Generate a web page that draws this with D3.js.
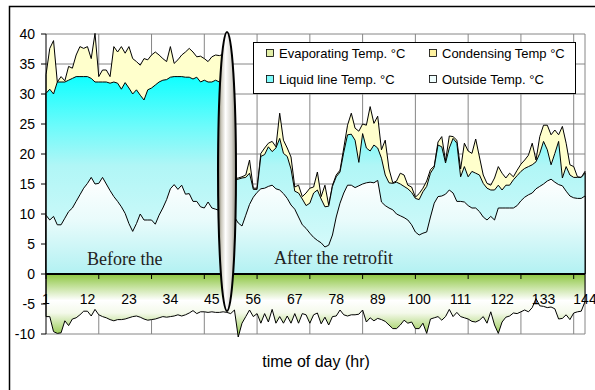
<!DOCTYPE html>
<html>
<head>
<meta charset="utf-8">
<script src="https://cdnjs.cloudflare.com/ajax/libs/d3/7.8.5/d3.min.js"></script>
<style>
  body { margin: 0; background: #fff; }
  svg { display: block; font-family: Arial, "Liberation Sans", sans-serif; }
</style>
</head>
<body>
<svg id="chart" width="595" height="390"></svg>
<script>
// categories: hour index 1..144
const hours = d3.range(1, 145);

const condensing = [
  33.2, 37.6, 38.9, 32.0, 32.9, 32.2, 34.6, 34.3, 36.5, 37.9,
  37.6, 37.9, 35.9, 40.1, 32.9, 34.0, 34.0, 32.9, 37.9, 37.0,
  37.9, 36.8, 37.9, 35.9, 35.4, 34.8, 35.9, 35.7, 36.5, 37.0,
  36.5, 35.9, 35.4, 37.9, 35.1, 35.7, 36.5, 37.0, 37.6, 37.0,
  36.2, 36.3, 35.9, 35.4, 36.2, 36.5, 36.4, 36.6, 36.3, 36.0,
  15.9, 16.0, 16.2, 16.5, 19.0, 14.3, 14.3, 20.1, 21.0, 21.8,
  22.1, 21.2, 26.8, 22.3, 21.0, 19.5, 14.5, 14.8, 12.9, 13.5,
  14.3, 14.5, 17.0, 12.9, 14.8, 11.5, 14.8, 16.5, 17.3, 21.0,
  24.8, 26.8, 24.3, 23.8, 25.0, 24.8, 27.9, 25.1, 26.3, 20.7,
  22.3, 17.5, 15.2, 15.5, 16.8, 16.5, 14.8, 14.5, 12.8, 13.4,
  14.3, 15.5, 17.4, 18.0, 22.0, 22.9, 18.8, 23.0, 22.9, 22.3,
  17.5, 21.8, 20.5, 20.1, 22.5, 19.5, 16.5, 15.1, 14.8, 16.0,
  17.9, 16.8, 16.0, 16.8, 16.2, 17.3, 18.3, 19.0, 19.8, 21.8,
  19.0, 22.9, 24.8, 24.8, 23.2, 24.0, 23.2, 24.6, 21.8, 18.2,
  17.9, 16.2, 16.1, 17.1
];

const liquidLine = [
  30.1, 30.8, 30.0, 32.0, 32.0, 32.0, 32.3, 32.6, 32.9, 32.9,
  32.9, 32.9, 32.6, 32.0, 32.0, 32.0, 32.0, 31.8, 32.0, 31.8,
  30.8, 31.9, 31.0, 30.0, 30.7, 29.8, 29.0, 30.7, 31.0, 31.5,
  32.0, 32.3, 32.4, 32.8, 32.9, 32.9, 32.9, 32.8, 32.8, 32.5,
  32.8, 32.0, 32.3, 32.0, 32.0, 32.3, 32.0, 32.0, 32.0, 32.0,
  15.7, 15.8, 16.0, 16.1, 16.8, 14.1, 14.1, 19.6, 19.9, 21.2,
  20.4, 21.0, 22.6, 20.1, 19.6, 17.5, 13.8, 13.5, 12.5, 11.4,
  11.8, 13.5, 14.0, 12.5, 11.2, 11.3, 14.6, 16.2, 17.0, 20.3,
  23.2, 23.3, 22.3, 18.6, 23.4, 21.0, 20.5, 21.5, 21.0, 19.3,
  16.5, 15.2, 15.1, 15.3, 15.0, 14.6, 14.2, 13.6, 12.6, 12.4,
  13.7, 14.6, 16.8, 17.8, 21.5, 21.2, 18.5, 21.0, 22.6, 21.8,
  16.2, 17.9, 16.2, 17.1, 16.8, 16.5, 15.1, 14.3, 14.0, 14.0,
  14.8, 14.0, 14.8, 14.8, 15.7, 16.4, 17.1, 17.6, 17.9, 18.2,
  18.7, 20.1, 22.1, 20.7, 18.2, 20.1, 22.1, 16.0, 17.9, 16.5,
  16.1, 16.1, 16.1, 16.8
];

const outside = [
  9.8, 9.0, 9.6, 8.2, 8.2, 9.3, 10.4, 11.0, 12.1, 13.2,
  14.3, 15.1, 16.1, 15.0, 15.1, 16.1, 15.0, 13.9, 12.9, 12.1,
  11.2, 10.1, 8.4, 7.1, 8.4, 10.0, 9.0, 9.0, 9.0, 8.3,
  9.8, 11.0, 12.4, 14.2, 14.9, 14.1, 14.8, 13.3, 13.4, 12.1,
  12.1, 11.2, 11.0, 12.0, 11.0, 10.8, 10.6, 10.5, 10.3, 10.0,
  9.5, 8.5, 8.0, 9.8, 11.6, 12.8, 13.6, 14.2, 14.3, 14.6,
  14.8, 14.2, 14.0, 13.4, 12.6, 11.5, 10.8, 9.5, 8.2, 7.6,
  6.8, 6.1, 5.6, 5.2, 4.5, 4.8, 6.5, 9.5, 11.8, 13.5,
  14.8, 14.8, 14.4, 14.7, 15.0, 15.2, 15.3, 15.2, 15.6, 12.0,
  11.4, 11.0, 10.7, 10.0, 9.7, 9.4, 9.0, 8.2, 7.0, 6.5,
  6.8, 7.0, 9.5, 11.8, 12.9, 13.0, 13.3, 14.0, 13.5, 12.1,
  12.1, 12.0, 11.4, 11.0, 11.0, 10.4, 9.5, 9.0, 9.6, 9.0,
  11.0, 11.0, 11.0, 11.0, 11.0, 11.4, 12.2, 12.8, 13.2, 13.5,
  14.2, 14.6, 15.0, 15.5, 15.8, 15.3, 14.9, 14.7, 13.8, 13.0,
  12.7, 12.6, 12.6, 13.0
];

const evaporating = [
  -7.1, -7.1, -9.6, -9.9, -9.8, -7.8, -8.6, -7.5, -7.3, -6.8,
  -6.2, -6.2, -7.0, -5.9, -6.8, -7.1, -7.3, -7.6, -7.8, -7.6,
  -7.6, -7.5, -7.3, -7.1, -7.0, -7.2, -7.5, -7.7, -7.6, -7.5,
  -7.3, -7.1, -7.2, -7.1, -7.0, -6.8, -7.0, -6.8, -6.5, -6.1,
  -6.6, -6.3, -6.3, -6.4, -6.3, -6.4, -6.4, -6.3, -6.4, -6.6,
  -6.0, -10.5, -8.2, -7.1, -6.0, -7.1, -6.6, -8.2, -6.6, -8.0,
  -5.9, -8.2, -7.1, -8.2, -7.0, -8.2, -6.6, -8.2, -6.6, -6.8,
  -8.2, -6.8, -6.5, -8.3, -7.2, -8.5, -7.1, -7.0, -6.0, -6.8,
  -7.0, -6.8, -6.8, -6.7, -6.0, -8.0, -7.3, -7.8, -7.4, -7.6,
  -7.9, -8.5, -9.1, -9.1, -8.5, -7.7, -8.2, -8.0, -9.1, -9.1,
  -8.2, -9.9, -7.5, -7.3, -7.1, -7.7, -7.1, -5.9, -7.1, -6.4,
  -7.1, -7.3, -7.5, -7.9, -8.0, -7.7, -7.1, -8.2, -6.3, -8.5,
  -9.9, -8.0, -7.2, -7.0, -6.5, -6.6, -6.3, -6.0, -6.3, -5.6,
  -4.1, -5.3, -5.4, -5.6, -5.5, -5.8, -7.5, -7.4, -6.8, -7.6,
  -6.5, -6.3, -6.2, -4.6
];

const yTicks = [-10, -5, 0, 5, 10, 15, 20, 25, 30, 35, 40];
const xLabelHours = [1, 12, 23, 34, 45, 56, 67, 78, 89, 100, 111, 122, 133, 144];
const xTickHours = [1, 15, 29, 43, 57, 71, 85, 99, 113, 127, 141];

const legendNames = ["Evaporating Temp. °C", "Condensing Temp °C", "Liquid line Temp. °C", "Outside Temp. °C"];
const legendColors = ["#e2eea6", "#fff2a0", "#7ffcfc", "#effefe"];

const svg = d3.select("#chart");
const plotLeft = 46, plotRight = 585, plotTop = 34, plotBottom = 334;

const x = d3.scalePoint().domain(hours).range([plotLeft, plotRight]);
const y = d3.scaleLinear().domain([-10, 40]).range([plotBottom, plotTop]);

// gradients
const defs = svg.append("defs");
function vGrad(id, stops) {
  const g = defs.append("linearGradient").attr("id", id)
    .attr("x1", 0).attr("y1", 0).attr("x2", 0).attr("y2", 1);
  stops.forEach(s => g.append("stop").attr("offset", s[0]).attr("stop-color", s[1]));
}
vGrad("gLiquid", [[0, "#10ffff"], [0.25, "#6cfbfb"], [0.45, "#b0f6f6"], [1, "#e0fbfb"]]);
vGrad("gOutside", [[0, "#ffffff"], [0.45, "#e8fbfb"], [1, "#b2f1f2"]]);
vGrad("gEvap", [[0, "#8dc641"], [0.42, "#ffffff"], [0.62, "#f4f9ea"], [1, "#8dc641"]]);

const hg = defs.append("linearGradient").attr("id", "gOval")
  .attr("x1", 0).attr("y1", 0).attr("x2", 1).attr("y2", 0);
[[0, "#6e6a58"], [0.18, "#cbc8bc"], [0.42, "#ffffff"], [0.75, "#d8d6cf"], [1, "#8d8a7e"]]
  .forEach(s => hg.append("stop").attr("offset", s[0]).attr("stop-color", s[1]));

// gridlines
svg.append("g").selectAll("line").data(yTicks).join("line")
  .attr("x1", plotLeft).attr("x2", plotRight)
  .attr("y1", d => y(d)).attr("y2", d => y(d))
  .attr("stroke", "#868686").attr("stroke-width", 1);
svg.append("g").selectAll("line").data(xTickHours.slice(1)).join("line")
  .attr("x1", d => x(d)).attr("x2", d => x(d))
  .attr("y1", plotTop).attr("y2", plotBottom)
  .attr("stroke", "#868686").attr("stroke-width", 1);
svg.append("line").attr("x1", plotRight).attr("x2", plotRight).attr("y1", plotTop).attr("y2", plotBottom)
  .attr("stroke", "#868686");

// areas, drawn back to front
const area = d3.area()
  .x((d, i) => x(hours[i]))
  .y0(y(0))
  .y1(d => y(d));

const series = [
  [condensing, "#ffffcc"],
  [liquidLine, "url(#gLiquid)"],
  [outside, "url(#gOutside)"],
  [evaporating, "url(#gEvap)"]
];
series.forEach(s => {
  svg.append("path").datum(s[0])
    .attr("d", area)
    .attr("fill", s[1])
    .attr("stroke", "#000")
    .attr("stroke-width", 1)
    .attr("stroke-linejoin", "round");
});

// axes
svg.append("line").attr("x1", plotLeft).attr("x2", plotRight).attr("y1", y(0)).attr("y2", y(0))
  .attr("stroke", "#000").attr("stroke-width", 2);
svg.append("g").selectAll("line").data(xTickHours).join("line")
  .attr("x1", d => x(d)).attr("x2", d => x(d))
  .attr("y1", y(0)).attr("y2", y(0) + 5)
  .attr("stroke", "#000");
svg.append("line").attr("x1", plotLeft).attr("x2", plotLeft).attr("y1", plotTop).attr("y2", plotBottom)
  .attr("stroke", "#000");
svg.append("g").selectAll("line").data(yTicks).join("line")
  .attr("x1", plotLeft - 5).attr("x2", plotLeft)
  .attr("y1", d => y(d)).attr("y2", d => y(d))
  .attr("stroke", "#000");

svg.append("g").selectAll("text").data(yTicks).join("text")
  .attr("x", 35).attr("y", d => y(d) + 5)
  .attr("text-anchor", "end")
  .style("font-size", "14px")
  .text(d => d);

svg.append("g").selectAll("text").data(xLabelHours).join("text")
  .attr("x", d => x(d)).attr("y", 304)
  .attr("text-anchor", "middle")
  .style("font-size", "14px")
  .text(d => d);

svg.append("text").attr("x", 316).attr("y", 367)
  .attr("text-anchor", "middle")
  .style("font-size", "16px")
  .text("time of day (hr)");

// annotations
svg.append("text").attr("x", 87).attr("y", 265)
  .style("font-family", "'Times New Roman', 'Liberation Serif', serif")
  .style("font-size", "18px").attr("fill", "#222")
  .text("Before the");
svg.append("text").attr("x", 274).attr("y", 264)
  .style("font-family", "'Times New Roman', 'Liberation Serif', serif")
  .style("font-size", "18px").attr("fill", "#222")
  .text("After the retrofit");

svg.append("ellipse")
  .attr("cx", 227).attr("cy", 171.5).attr("rx", 9).attr("ry", 139.5)
  .attr("fill", "url(#gOval)")
  .attr("stroke", "#000").attr("stroke-width", 2);

// legend
const legend = svg.append("g");
legend.append("rect").attr("x", 253.5).attr("y", 42.5).attr("width", 322).attr("height", 51)
  .attr("fill", "#fff").attr("stroke", "#000");
legendNames.forEach((name, i) => {
  const lx = i % 2 === 0 ? 266 : 429;
  const ly = i < 2 ? 58 : 84;
  legend.append("rect").attr("x", lx + 0.5).attr("y", ly - 8.5).attr("width", 7).attr("height", 7)
    .attr("fill", legendColors[i]).attr("stroke", "#000").attr("stroke-width", 0.8);
  legend.append("text").attr("x", lx + 13).attr("y", ly)
    .style("font-size", "13px")
    .text(name);
});

// chart border
svg.append("rect").attr("x", 9.5).attr("y", 6.5).attr("width", 620).attr("height", 420)
  .attr("fill", "none").attr("stroke", "#000").attr("stroke-width", 1.5);
</script>
</body>
</html>
